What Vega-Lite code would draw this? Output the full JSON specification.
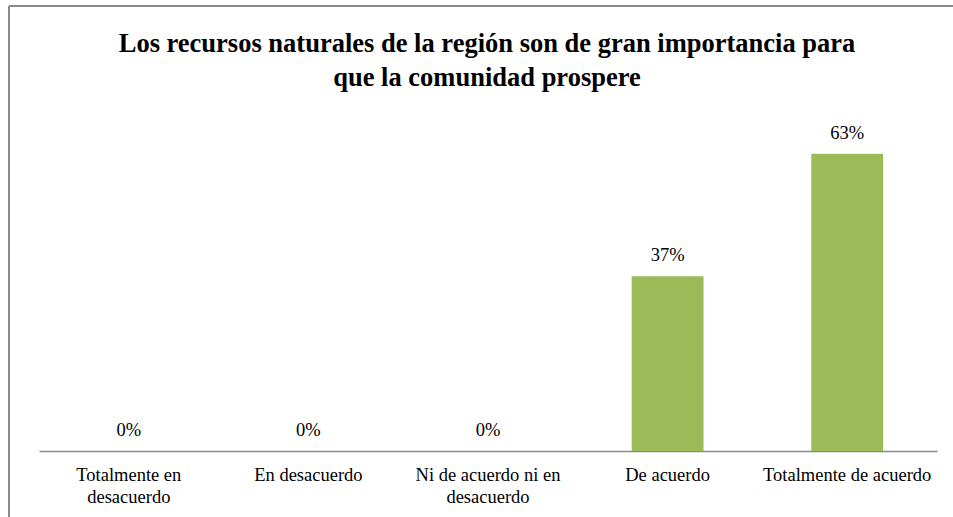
{
  "$schema": "https://vega.github.io/schema/vega-lite/v6.json",
  "autosize": "none",
  "padding": {"left": 9, "top": 6, "right": 0, "bottom": 0},
  "width": 944,
  "height": 511,
  "background": "white",
  "title": {
    "text": ["Los recursos naturales de la región son de gran importancia para", "que la comunidad prospere"],
    "font": "Liberation Serif",
    "fontSize": 26.5,
    "fontWeight": "bold",
    "color": "#000000",
    "anchor": "middle",
    "frame": "group",
    "baseline": "alphabetic",
    "lineHeight": 34,
    "offset": -106,
    "dx": 6
  },
  "data": {
    "values": [
      {"categoria": "Totalmente en desacuerdo", "valor": 0},
      {"categoria": "En desacuerdo", "valor": 0},
      {"categoria": "Ni de acuerdo ni en desacuerdo", "valor": 0},
      {"categoria": "De acuerdo", "valor": 0.37},
      {"categoria": "Totalmente de acuerdo", "valor": 0.63}
    ]
  },
  "encoding": {
    "x": {
      "field": "categoria",
      "type": "nominal",
      "sort": null,
      "scale": {"range": [30, 928], "paddingInner": 0.6, "paddingOuter": 0.3},
      "axis": {
        "title": null,
        "orient": "bottom",
        "offset": -66,
        "labelAngle": 0,
        "ticks": false,
        "labelPadding": 14,
        "labelFont": "Liberation Serif",
        "labelFontSize": 18.5,
        "labelColor": "#000000",
        "labelLineHeight": 22,
        "labelLimit": 0,
        "domainColor": "#898989",
        "domainWidth": 1.5,
        "labelExpr": "datum.label == 'Totalmente en desacuerdo' ? ['Totalmente en', 'desacuerdo'] : datum.label == 'Ni de acuerdo ni en desacuerdo' ? ['Ni de acuerdo ni en', 'desacuerdo'] : datum.label"
      }
    },
    "y": {
      "field": "valor",
      "type": "quantitative",
      "scale": {"domain": [-0.1398, 0.9428], "nice": false, "zero": false},
      "axis": null
    }
  },
  "layer": [
    {
      "mark": {"type": "bar", "color": "#9BBB59"},
      "encoding": {
        "y": {"field": "valor", "type": "quantitative"},
        "y2": {"datum": 0}
      }
    },
    {
      "mark": {
        "type": "text",
        "font": "Liberation Serif",
        "fontSize": 18.5,
        "color": "#000000",
        "baseline": "alphabetic",
        "dy": -15
      },
      "encoding": {
        "text": {"field": "valor", "type": "quantitative", "format": ".0%"}
      }
    }
  ],
  "config": {
    "view": {"stroke": "#8c8c8c", "strokeWidth": 2, "strokeDash": [944, 1455, 511, 0]}
  }
}
